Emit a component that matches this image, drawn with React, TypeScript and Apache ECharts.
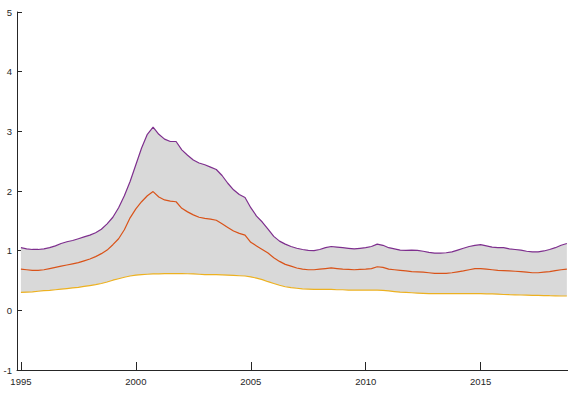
import React, { useEffect, useRef } from "react";
import * as echarts from "echarts";

// Quarterly observations, 1995Q1 .. 2018Q4
const START_YEAR = 1995;
const QUARTER_STEP = 0.25;

const upper = [
  1.05, 1.03, 1.02, 1.02, 1.03, 1.05, 1.08, 1.12,
  1.15, 1.17, 1.2, 1.23, 1.26, 1.3, 1.36, 1.45,
  1.56, 1.72, 1.92, 2.16, 2.44, 2.72, 2.95, 3.07,
  2.95, 2.87, 2.83, 2.83, 2.69, 2.6, 2.52, 2.47,
  2.44, 2.4, 2.36, 2.26, 2.13, 2.02, 1.94, 1.89,
  1.72, 1.58, 1.48, 1.36, 1.24, 1.16, 1.11, 1.07,
  1.04, 1.02, 1.005, 1.0, 1.02, 1.05, 1.07, 1.06,
  1.05, 1.04, 1.03, 1.04, 1.05, 1.07, 1.11, 1.09,
  1.05, 1.03, 1.01, 1.005, 1.01, 1.005, 0.99, 0.97,
  0.96, 0.96, 0.965, 0.98, 1.01, 1.04, 1.07, 1.09,
  1.1, 1.08, 1.06, 1.05, 1.05, 1.03, 1.02, 1.01,
  0.99, 0.98, 0.98, 0.995, 1.02, 1.05, 1.09, 1.12,
];

const middle = [
  0.69, 0.68, 0.67, 0.67, 0.68, 0.7, 0.72, 0.74,
  0.76, 0.78, 0.8, 0.83, 0.86, 0.9, 0.95, 1.01,
  1.1, 1.2, 1.35, 1.55, 1.7, 1.82, 1.92, 1.99,
  1.9, 1.85, 1.83, 1.82, 1.71, 1.65, 1.6, 1.56,
  1.54, 1.53, 1.51, 1.45, 1.39, 1.33, 1.29, 1.26,
  1.14, 1.08, 1.02, 0.96, 0.88, 0.82, 0.77, 0.74,
  0.71, 0.69, 0.68, 0.68, 0.69, 0.7, 0.71, 0.7,
  0.69, 0.685, 0.68, 0.685, 0.69, 0.7, 0.73, 0.72,
  0.69, 0.68, 0.67, 0.66, 0.65, 0.645, 0.64, 0.63,
  0.62, 0.62, 0.62, 0.63, 0.645, 0.66, 0.68, 0.7,
  0.7, 0.69, 0.68, 0.67, 0.665, 0.66, 0.655, 0.65,
  0.64, 0.63, 0.63, 0.64, 0.65, 0.665, 0.68, 0.69,
];

const lower = [
  0.3, 0.305, 0.31, 0.32, 0.33, 0.335, 0.345, 0.355,
  0.365, 0.375, 0.385, 0.4, 0.415, 0.43, 0.45, 0.475,
  0.505, 0.53, 0.555, 0.575, 0.59, 0.6, 0.605, 0.61,
  0.612, 0.614, 0.615, 0.615, 0.615, 0.613, 0.61, 0.605,
  0.6, 0.6, 0.6, 0.595, 0.59, 0.585, 0.58, 0.575,
  0.56, 0.54, 0.515, 0.48, 0.45, 0.42, 0.395, 0.38,
  0.37, 0.36, 0.355, 0.35, 0.35, 0.35, 0.35, 0.345,
  0.345, 0.34, 0.34, 0.34, 0.34, 0.34, 0.34, 0.335,
  0.325, 0.315, 0.305, 0.3, 0.295, 0.29, 0.285, 0.28,
  0.28, 0.28, 0.28, 0.28, 0.28, 0.28, 0.28, 0.28,
  0.28, 0.277, 0.275, 0.27, 0.265, 0.262, 0.26, 0.257,
  0.255, 0.252, 0.25, 0.248, 0.245, 0.243, 0.24, 0.24,
];

const xTickYears = [1995, 2000, 2005, 2010, 2015];
const yTicks = { min: -1, max: 5, step: 1 };

const times = upper.map((_, i) => START_YEAR + i * QUARTER_STEP);
const pairs = (vals: number[]) => vals.map((v, i) => [times[i], v]);

const FONT = "'Liberation Sans Narrow', 'Liberation Sans', Arial, sans-serif";
const INK = "#262626";

export default function App() {
  const ref = useRef<HTMLDivElement>(null);

  useEffect(() => {
    if (!ref.current) return;
    const chart = echarts.init(ref.current, undefined, { renderer: "svg" });

    const lineSeries = (name: string, vals: number[], color: string) => ({
      name,
      type: "line",
      data: pairs(vals),
      showSymbol: false,
      symbol: "none",
      lineStyle: { color, width: 1.2 },
      z: 3,
    });

    chart.setOption({
      animation: false,
      backgroundColor: "#ffffff",
      grid: { left: 17, right: 0, top: 12, bottom: 24, containLabel: false },
      xAxis: {
        type: "value",
        min: 1994.83,
        max: 2018.8,
        axisLine: { show: true, onZero: false, lineStyle: { color: INK, width: 1 } },
        axisTick: {
          show: true,
          inside: true,
          length: 8,
          customValues: xTickYears,
          lineStyle: { color: INK, width: 1 },
        },
        axisLabel: {
          customValues: xTickYears,
          color: INK,
          fontFamily: FONT,
          fontSize: 9.5,
          margin: 6,
          formatter: (v: number) => String(Math.round(v)),
        },
        splitLine: { show: false },
      },
      yAxis: {
        type: "value",
        min: yTicks.min,
        max: yTicks.max,
        interval: yTicks.step,
        axisLine: { show: true, onZero: false, lineStyle: { color: INK, width: 1 } },
        axisTick: {
          show: true,
          inside: true,
          length: 5,
          lineStyle: { color: INK, width: 1 },
        },
        axisLabel: {
          color: INK,
          fontFamily: FONT,
          fontSize: 9.5,
          margin: 5,
        },
        splitLine: { show: false },
      },
      series: [
        {
          name: "band",
          type: "custom",
          data: [[times[0], upper[0]]],
          encode: { x: 0, y: 1 },
          z: 1,
          silent: true,
          renderItem: (params: any, api: any) => {
            if (params.dataIndex !== 0) return null;
            const top = upper.map((v, i) => api.coord([times[i], v]));
            const bottom = lower
              .map((v, i) => api.coord([times[i], v]))
              .reverse();
            return {
              type: "polygon",
              shape: { points: top.concat(bottom) },
              style: { fill: "#d9d9d9", stroke: "none" },
            };
          },
        },
        lineSeries("upper", upper, "#7e2f8e"),
        lineSeries("middle", middle, "#d95319"),
        lineSeries("lower", lower, "#edb120"),
      ],
    });

    return () => chart.dispose();
  }, []);

  return (
    <div
      ref={ref}
      style={{ position: "fixed", left: 0, top: 0, width: 568, height: 394 }}
    />
  );
}
